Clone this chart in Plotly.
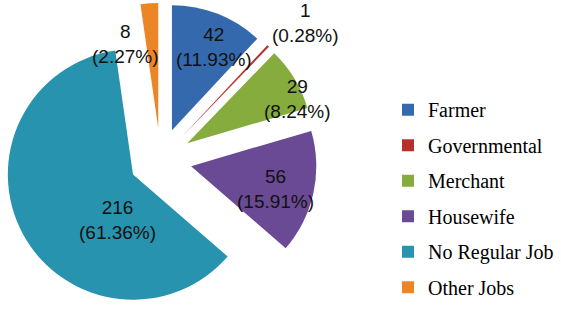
import plotly.graph_objects as go

labels = ["Farmer", "Governmental", "Merchant", "Housewife", "No Regular Job", "Other Jobs"]
values = [42, 1, 29, 56, 216, 8]
colors = ["#3469AE", "#B8302D", "#86AC3E", "#6A4A95", "#2893AE", "#EC8526"]

total = sum(values)
W, H = 561, 316
LABEL_FONT = dict(family="Liberation Sans, Arial, sans-serif", size=19, color="#111111")

# label block centres (pixels from top-left), one per slice
label_spots = [(214, 44), (305, 20), (297, 97), (275, 188), (117, 219), (125, 41)]

fig = go.Figure()
fig.add_trace(go.Pie(
    labels=labels,
    values=values,
    sort=False,
    direction="clockwise",
    rotation=0,
    pull=[0.25] * len(values),
    marker=dict(colors=colors, line=dict(width=0)),
    textinfo="none",
    showlegend=False,
    hoverinfo="label+value+percent",
    domain=dict(x=[0, 321 / W], y=[0, 1]),
))

# legend entries (one per category, so spacing can match)
for i, (lab, col) in enumerate(zip(labels, colors)):
    fig.add_trace(go.Scatter(
        x=[None], y=[None], mode="markers", name=lab,
        marker=dict(symbol="square", size=12, color=col),
        legendgroup=f"g{i}", showlegend=True, hoverinfo="skip",
    ))

anns = []
for v, (px, py) in zip(values, label_spots):
    anns.append(dict(
        x=px / W, y=1 - py / H, xref="paper", yref="paper",
        text=f"{v}<br>({v / total * 100:.2f}%)", showarrow=False,
        font=LABEL_FONT, xanchor="center", yanchor="middle",
    ))

fig.update_layout(
    width=W, height=H,
    margin=dict(l=0, r=0, t=3, b=0, pad=0),
    paper_bgcolor="white", plot_bgcolor="white",
    xaxis=dict(visible=False), yaxis=dict(visible=False),
    legend=dict(
        x=388 / W, y=1 - 88 / H, xanchor="left", yanchor="top",
        font=dict(family="Liberation Serif, Times New Roman, serif", size=20, color="#000000"),
        tracegroupgap=6.5, traceorder="grouped",
        bgcolor="rgba(0,0,0,0)", borderwidth=0,
    ),
    annotations=anns,
)

fig.write_html(
    "out.html",
    config={"displayModeBar": False},
    post_script="document.body.style.margin='0';document.body.style.padding='0';document.body.style.overflow='hidden';",
)
